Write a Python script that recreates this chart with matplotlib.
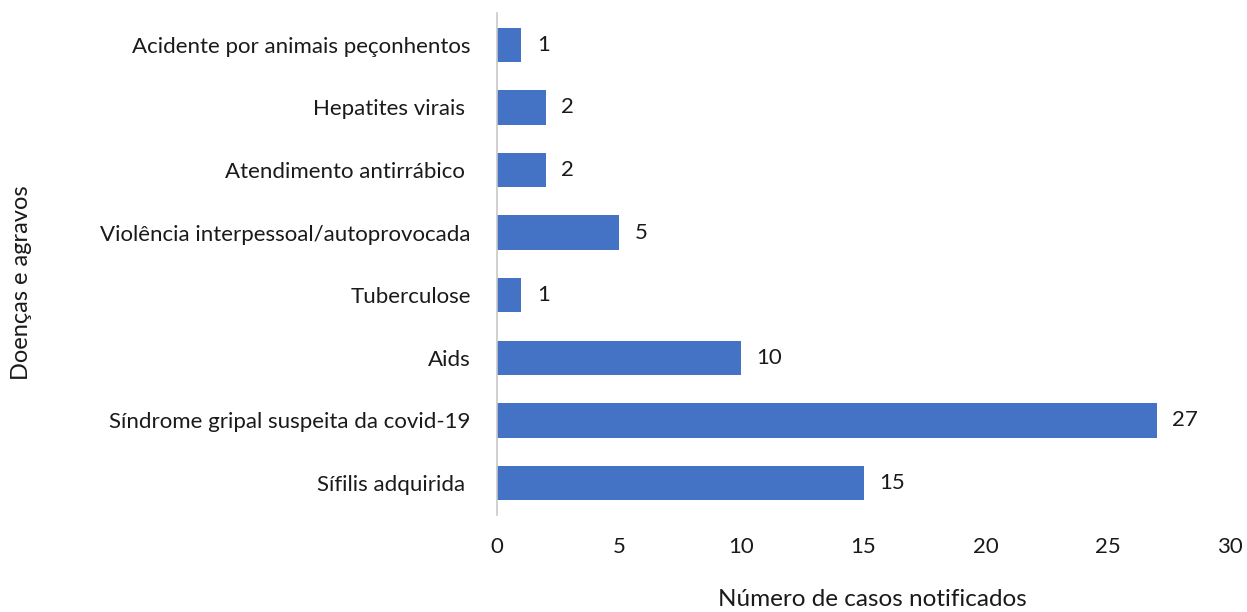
import matplotlib
matplotlib.use("Agg")
import matplotlib.pyplot as plt

categories = ["Sífilis adquirida ", "Síndrome gripal suspeita da covid-19", "Aids",
              "Tuberculose", "Violência interpessoal/autoprovocada",
              "Atendimento antirrábico ", "Hepatites virais ",
              "Acidente por animais peçonhentos"]
values = [15, 27, 10, 1, 5, 2, 2, 1]
xticks = [0, 5, 10, 15, 20, 25, 30]

plt.rcParams['font.family'] = ['Lato', 'DejaVu Sans']

fig = plt.figure(figsize=(12.47, 6.12), dpi=100)
ax = fig.add_axes([0.3986, 0.1585, 0.5878, 0.8203])

bars = ax.barh(range(len(categories)), values, height=0.55, color='#4472C4')
for i, v in enumerate(values):
    ax.annotate(str(v), (v, i), xytext=(11, 0), textcoords='offset points',
                va='center', ha='left', fontsize=16, color='#1a1a1a')

ax.set_yticks(range(len(categories)))
ax.set_yticklabels(categories, fontsize=16, color='#1a1a1a')
ax.set_xticks(xticks)
ax.set_xticklabels([str(t) for t in xticks], fontsize=16, color='#1a1a1a')
ax.set_xlim(0, 30)
ax.set_ylim(-0.51, 7.51)

for s in ['top', 'right', 'bottom']:
    ax.spines[s].set_visible(False)
ax.spines['left'].set_color('#c8c8c8')
ax.spines['left'].set_linewidth(1.2)
ax.tick_params(axis='both', length=0)
ax.tick_params(axis='y', pad=19)
ax.tick_params(axis='x', pad=16)

fig.text(872/1247, 1 - 600/612, "Número de casos notificados", ha='center', va='center',
         fontsize=17.5, color='#1a1a1a')
fig.text(22/1247, 1 - 283/612, "Doenças e agravos", ha='center', va='center',
         rotation=90, fontsize=17, color='#1a1a1a')

fig.savefig("out.png", dpi=100)
